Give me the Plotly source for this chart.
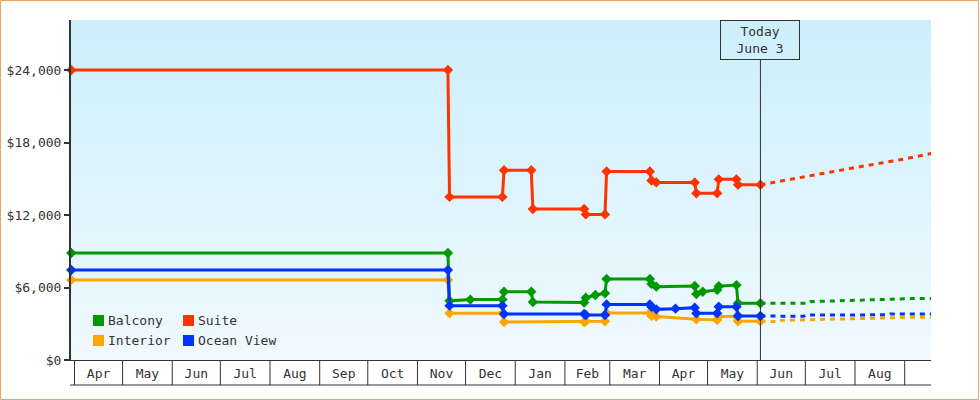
import plotly.graph_objects as go
import pandas as pd

# ---------------- data ----------------
month_starts = ['2024-04-01', '2024-05-01', '2024-06-01', '2024-07-01', '2024-08-01', '2024-09-01',
                '2024-10-01', '2024-11-01', '2024-12-01', '2025-01-01', '2025-02-01', '2025-03-01',
                '2025-04-01', '2025-05-01', '2025-06-01', '2025-07-01', '2025-08-01', '2025-09-01']
month_labels = ['Apr', 'May', 'Jun', 'Jul', 'Aug', 'Sep', 'Oct', 'Nov', 'Dec', 'Jan', 'Feb', 'Mar',
                'Apr', 'May', 'Jun', 'Jul', 'Aug']
y_ticks = [0, 6000, 12000, 18000, 24000]
y_tick_labels = ['$0', '$6,000', '$12,000', '$18,000', '$24,000']
today = '2025-06-03'

suite_dates = ['2024-03-30', '2024-11-20', '2024-11-21', '2024-12-24', '2024-12-25', '2025-01-11',
               '2025-01-12', '2025-02-13', '2025-02-14', '2025-02-26', '2025-02-27', '2025-03-26',
               '2025-03-27', '2025-03-30', '2025-04-23', '2025-04-24', '2025-05-07', '2025-05-08',
               '2025-05-19', '2025-05-20', '2025-06-03']
suite_vals = [24000, 24000, 13500, 13500, 15700, 15700, 12500, 12500, 12050, 12050, 15600, 15600,
              14850, 14700, 14700, 13800, 13800, 14950, 14950, 14500, 14500]

balcony_dates = ['2024-03-30', '2024-11-20', '2024-11-21', '2024-12-04', '2024-12-24', '2024-12-25',
                 '2025-01-11', '2025-01-12', '2025-02-13', '2025-02-14', '2025-02-20', '2025-02-26',
                 '2025-02-27', '2025-03-26', '2025-03-27', '2025-03-30', '2025-04-23', '2025-04-24',
                 '2025-04-28', '2025-05-07', '2025-05-08', '2025-05-19', '2025-05-20', '2025-06-03']
balcony_vals = [8850, 8850, 4900, 5000, 5000, 5650, 5650, 4800, 4750, 5150, 5380, 5520,
                6700, 6700, 6300, 6070, 6130, 5460, 5650, 5800, 6100, 6200, 4700, 4700]

ocean_dates = ['2024-03-30', '2024-11-20', '2024-11-21', '2024-12-24', '2024-12-25', '2025-02-13',
               '2025-02-14', '2025-02-26', '2025-02-27', '2025-03-26', '2025-03-27', '2025-03-30',
               '2025-04-11', '2025-04-23', '2025-04-24', '2025-05-07', '2025-05-08', '2025-05-19',
               '2025-05-20', '2025-06-03']
ocean_vals = [7450, 7450, 4500, 4500, 3810, 3810, 3720, 3720, 4600, 4600, 4400, 4190,
              4250, 4330, 3860, 3860, 4410, 4410, 3640, 3640]

interior_dates = ['2024-03-30', '2024-11-20', '2024-11-21', '2024-12-24', '2024-12-25', '2025-02-13',
                  '2025-02-14', '2025-02-26', '2025-02-27', '2025-03-26', '2025-03-27', '2025-03-30',
                  '2025-04-24', '2025-05-07', '2025-05-08', '2025-05-19', '2025-05-20', '2025-06-03']
interior_vals = [6620, 6620, 3860, 3860, 3150, 3150, 3200, 3200, 3900, 3900, 3650, 3590,
                 3370, 3310, 3600, 3600, 3200, 3200]

# forecasts (dotted)
suite_fc_dates = ['2025-06-03', '2025-07-01', '2025-08-01', '2025-09-01', '2025-09-18']
suite_fc_vals = [14500, 15200, 15920, 16640, 17100]
balcony_fc_dates = ['2025-06-03', '2025-07-03', '2025-07-04', '2025-08-01', '2025-09-05', '2025-09-18']
balcony_fc_vals = [4700, 4700, 4830, 4960, 5080, 5100]
ocean_fc_dates = ['2025-06-03', '2025-06-30', '2025-07-01', '2025-08-22', '2025-08-23', '2025-09-18']
ocean_fc_vals = [3640, 3620, 3720, 3740, 3810, 3810]
interior_fc_dates = ['2025-06-03', '2025-06-15', '2025-06-16', '2025-07-12', '2025-08-10', '2025-09-05', '2025-09-18']
interior_fc_vals = [3200, 3180, 3280, 3370, 3450, 3530, 3530]

series_names = ['Balcony', 'Suite', 'Interior', 'Ocean View']
series_colors = ['#009900', '#FF3300', '#FFA500', '#0033FF']

# ---------------- styling / layout ----------------
W, H = 980, 400
ML, MR, MT, MB = 71, 49, 20, 40
PW, PH = W - ML - MR, H - MT - MB
FONT = 'DejaVu Sans Mono'
TXT = '#333333'


def px_x(px):
    return (px - ML) / PW


def px_y(py):
    return (H - MB - py) / PH


fig = go.Figure()

hist = {
    'Balcony': (balcony_dates, balcony_vals),
    'Suite': (suite_dates, suite_vals),
    'Interior': (interior_dates, interior_vals),
    'Ocean View': (ocean_dates, ocean_vals),
}
fc = {
    'Balcony': (balcony_fc_dates, balcony_fc_vals),
    'Suite': (suite_fc_dates, suite_fc_vals),
    'Interior': (interior_fc_dates, interior_fc_vals),
    'Ocean View': (ocean_fc_dates, ocean_fc_vals),
}

for name, col in zip(series_names, series_colors):
    d, v = fc[name]
    fig.add_trace(go.Scatter(x=d, y=v, mode='lines', name=name + ' forecast', showlegend=False,
                             line=dict(color=col, width=3, dash='5px,5px'), hoverinfo='skip'))

draw_order = ['Interior', 'Balcony', 'Suite', 'Ocean View']
for name in draw_order:
    col = series_colors[series_names.index(name)]
    d, v = hist[name]
    fig.add_trace(go.Scatter(x=d, y=v, mode='lines+markers', name=name, showlegend=False,
                             line=dict(color=col, width=3),
                             marker=dict(symbol='diamond', size=8, color=col),
                             cliponaxis=False))

shapes = []
# gradient background
N = 68
top_c = (204, 239, 252)
bot_c = (240, 249, 254)
for i in range(N):
    t = i / (N - 1)
    c = tuple(round(top_c[k] + (bot_c[k] - top_c[k]) * t) for k in range(3))
    shapes.append(dict(type='rect', xref='paper', yref='paper', x0=0, x1=1,
                       y0=1 - (i + 1) / N, y1=1 - i / N, line=dict(width=0),
                       fillcolor='rgb(%d,%d,%d)' % c, layer='below'))

# month boxes below the plot
box_h = 25 / PH
for m in month_starts:
    shapes.append(dict(type='line', xref='x', yref='paper', x0=m, x1=m, y0=0, y1=-box_h,
                       line=dict(color=TXT, width=1)))
shapes.append(dict(type='line', xref='paper', yref='paper', x0=px_x(70), x1=1, y0=-box_h, y1=-box_h,
                   line=dict(color=TXT, width=1)))

# today line
shapes.append(dict(type='line', xref='x', yref='paper', x0=today, x1=today, y0=0, y1=px_y(60),
                   line=dict(color=TXT, width=1)))

# legend swatches
leg_pos = [(93, 320.5), (183, 320.5), (93, 340.5), (183, 340.5)]
annotations = []
for (lx, ly), name, col in zip(leg_pos, series_names, series_colors):
    shapes.append(dict(type='rect', xref='paper', yref='paper', x0=px_x(lx), x1=px_x(lx + 11),
                       y0=px_y(ly + 5.5), y1=px_y(ly - 5.5), line=dict(width=0), fillcolor=col))
    annotations.append(dict(xref='paper', yref='paper', x=px_x(lx + 13), y=px_y(ly), text=name,
                            showarrow=False, xanchor='left', yanchor='middle',
                            font=dict(family=FONT, size=13, color=TXT)))

# outer border
shapes.append(dict(type='rect', xref='paper', yref='paper', x0=px_x(0.5), x1=px_x(W - 1.5),
                   y0=px_y(H - 0.5), y1=px_y(0.5), line=dict(color='#EBA35E', width=1),
                   fillcolor='rgba(0,0,0,0)'))

# today annotation
annotations.append(dict(x=today, xref='x', y=1, yref='paper', yanchor='top', xanchor='center',
                        text='Today<br>June 3', showarrow=False, width=78, height=38,
                        bordercolor=TXT, borderwidth=1, borderpad=0,
                        font=dict(family=FONT, size=13, color=TXT)))

# month label positions (middle of each month)
ms = pd.to_datetime(month_starts)
mids = [ms[i] + (ms[i + 1] - ms[i]) / 2 for i in range(len(ms) - 1)]

fig.update_layout(
    width=W, height=H,
    margin=dict(l=ML, r=MR, t=MT, b=MB, pad=0, autoexpand=False),
    paper_bgcolor='white', plot_bgcolor='rgb(220,244,253)',
    showlegend=False,
    font=dict(family=FONT, size=13, color=TXT),
    shapes=shapes, annotations=annotations,
    xaxis=dict(type='date', range=['2024-03-29 19:40', '2025-09-17 10:00'], automargin=False,
               tickvals=mids, ticktext=month_labels,
               ticks='outside', ticklen=1, tickcolor='rgba(0,0,0,0)',
               showline=True, linecolor=TXT, linewidth=1, showgrid=False, zeroline=False,
               tickfont=dict(family=FONT, size=13, color=TXT)),
    yaxis=dict(range=[0, 28138], tickvals=y_ticks, ticktext=y_tick_labels, automargin=False,
               ticks='outside', ticklen=5, tickwidth=2, tickcolor=TXT,
               showline=True, linecolor=TXT, linewidth=2, showgrid=False, zeroline=False,
               tickfont=dict(family=FONT, size=13, color=TXT)),
)

fig.write_html('out.html')
